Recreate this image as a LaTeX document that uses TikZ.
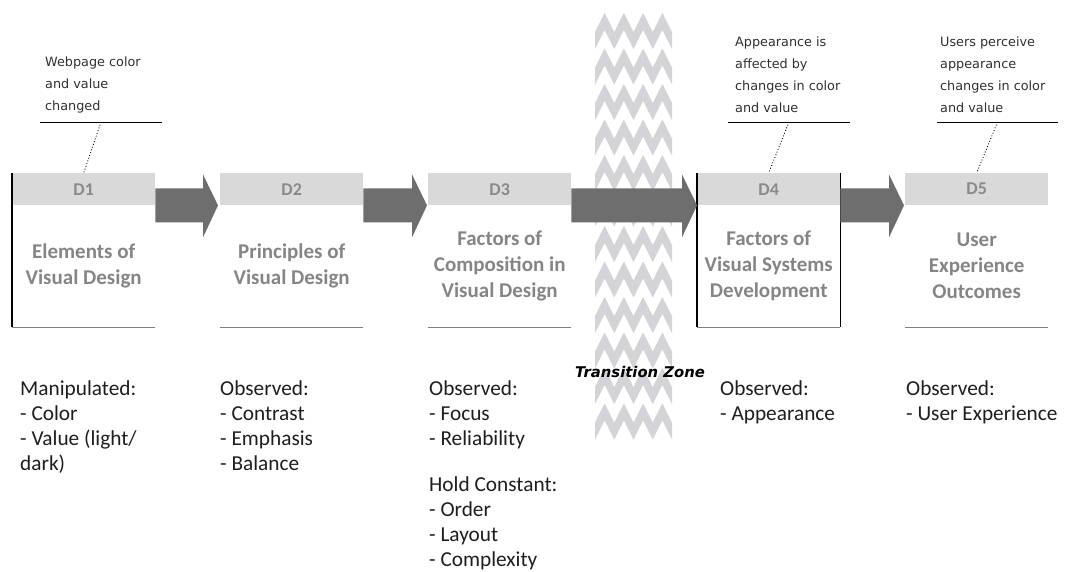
\documentclass[tikz,border=0pt]{standalone}
\usepackage{fontspec}
\setmainfont{Carlito}
\newfontfamily\dejavu{DejaVu Sans}
\usetikzlibrary{calc}
\definecolor{arrowgray}{HTML}{6E6E6E}
\definecolor{hdrfill}{HTML}{D9D9D9}
\definecolor{hdrtext}{HTML}{8A8A8A}
\definecolor{titlegray}{HTML}{858585}
\definecolor{linegray}{HTML}{7F7F7F}
\definecolor{ziggray}{HTML}{D3D3D8}
\definecolor{calltext}{HTML}{303030}
\definecolor{bodytext}{HTML}{1E1E1E}
\tikzset{
  hdr/.style={fill=hdrfill, draw=none, minimum width=143pt, minimum height=32pt, inner sep=0pt,
    anchor=north west, text=hdrtext, font=\fontsize{18}{20}\selectfont\bfseries},
  bodybox/.style={draw=none, minimum width=143pt, minimum height=122pt, inner sep=0pt,
    anchor=north west, align=center, text=titlegray, font=\fontsize{21}{26}\selectfont\bfseries},
  arr/.style={fill=arrowgray, draw=none},
  baseline/.style={draw=linegray, line width=1.5pt},
  sideline/.style={draw=black, line width=1.2pt},
  ctext/.style={anchor=south west, inner sep=0pt, align=left, text=calltext,
    font=\dejavu\fontsize{12.8}{22}\selectfont},
  cline/.style={draw=black, line width=1pt},
  leader/.style={draw=black, line width=0.9pt, dotted},
  btext/.style={anchor=north west, inner sep=0pt, align=left, text=bodytext,
    font=\fontsize{21.3}{25}\selectfont},
  zig/.style={fill=ziggray, draw=none},
}
\newcommand\blockarrow[2]{%
  \fill[arr] let \p1=(#1), \p2=(#2) in
   (\x1,\y1+17pt) -- (\x2-15pt,\y1+17pt) -- (\x2-15pt,\y1+31pt) -- (\x2,\y1)
   -- (\x2-15pt,\y1-32pt) -- (\x2-15pt,\y1-17pt) -- (\x1,\y1-17pt) -- cycle;}
\begin{document}
\begin{tikzpicture}[x=1pt,y=-1pt]
\useasboundingbox (0,0) rectangle (1069,571);

% transition zone zigzag band
\foreach \k in {0,...,11}{
  \pgfmathsetmacro\yy{13+35.5*\k}
  \fill[zig] (595,\yy+19)
    \foreach \i in {0,...,3}{ -- ({604.625+19.25*\i},\yy) -- ({614.25+19.25*\i},\yy+19)}
    -- (672,\yy+36)
    \foreach \i in {3,...,0}{ -- ({604.625+19.25*\i},\yy+17) -- ({595+19.25*\i},\yy+36)}
    -- cycle;
}

% headers
\node[hdr] (h1) at (12,173) {D1};
\node[hdr] (h2) at (220,173) {D2};
\node[hdr] (h3) at (428,173) {D3};
\node[hdr] (h4) at (697,173) {D4};
\node[hdr] (h5) at (905,173) {D5};

% bodies
\node[bodybox] (b1) at (12,205) {Elements of\\Visual Design};
\node[bodybox] (b2) at (220,205) {Principles of\\Visual Design};
\node[bodybox] (b3) at (428,205) {Factors of\\Composition in\\Visual Design};
\node[bodybox] (b4) at (697,205) {Factors of\\Visual Systems\\Development};
\node[bodybox] (b5) at (905,205) {User\\Experience\\Outcomes};

% bottom lines and sides
\foreach \b in {b1,b2,b3,b4,b5}{
  \draw[baseline] (\b.south west) -- (\b.south east);
}
\draw[sideline] (h1.north west) -- (b1.south west);
\draw[sideline] (h4.north west) -- (b4.south west);
\draw[sideline] (h4.north east) -- (b4.south east);

% block arrows
\blockarrow{h1.south east}{$(h2.south west)+(-2,0)$}
\blockarrow{h2.south east}{$(h3.south west)+(-1,0)$}
\blockarrow{h3.south east}{h4.south west}
\blockarrow{h4.south east}{$(h5.south west)+(-1,0)$}

% callouts
\node[ctext] (c1) at (45,113) {Webpage color\\and value\\changed};
\coordinate (u1) at (101,122);
\draw[cline] ($(u1)+(-61,0)$) -- ($(u1)+(61,0)$);
\draw[leader] (u1) -- (h1.north);

\node[ctext] (c4) at (735,113) {Appearance is\\affected by\\changes in color\\and value};
\coordinate (u4) at (789,122);
\draw[cline] ($(u4)+(-61,0)$) -- ($(u4)+(61,0)$);
\draw[leader] (u4) -- (h4.north);

\node[ctext] (c5) at (940,113) {Users perceive\\appearance\\changes in color\\and value};
\coordinate (u5) at (997.5,122);
\draw[cline] ($(u5)+(-60.5,0)$) -- ($(u5)+(60.5,0)$);
\draw[leader] (u5) -- (h5.north);

% transition zone label
\node[inner sep=0pt, text=black, font=\dejavu\bfseries\itshape\fontsize{14.8}{16}\selectfont] (tz) at (640,372) {Transition Zone};

% bottom texts
\node[btext] (o1) at (20,381) {Manipulated:\\- Color\\- Value (light/\\dark)};
\node[btext] (o2) at (220,381) {Observed:\\- Contrast\\- Emphasis\\- Balance};
\node[btext] (o3) at (429,381) {Observed:\\- Focus\\- Reliability\\[21pt]Hold Constant:\\- Order\\- Layout\\- Complexity};
\node[btext] (o4) at (720,381) {Observed:\\- Appearance};
\node[btext] (o5) at (906,381) {Observed:\\- User Experience};
\end{tikzpicture}
\end{document}
